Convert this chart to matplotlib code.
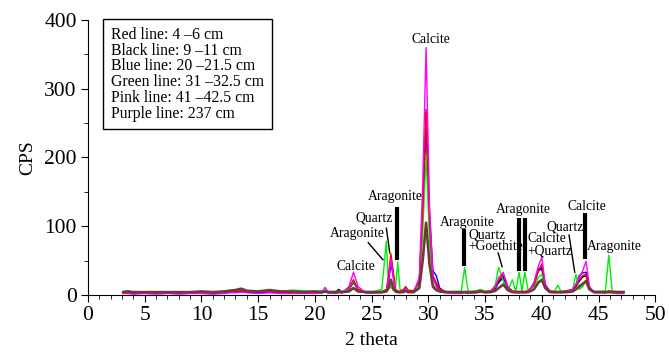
import matplotlib.pyplot as plt
from matplotlib.ticker import MultipleLocator

plt.rcParams['font.family'] = ['Liberation Serif', 'DejaVu Serif']

# 2 theta positions shared by all traces
two_theta = [3.1, 3.5, 4, 5, 6, 7, 8, 9, 10, 11,
             12, 12.5, 13, 13.5, 14, 15, 16, 17, 18, 19,
             20, 20.6, 20.9, 21.2, 21.8, 22.1, 22.4, 23.0, 23.4, 23.8,
             24.5, 25.2, 25.9, 26.3, 26.5, 26.7, 26.9, 27.1, 27.3, 27.5,
             27.8, 28.0, 28.2, 28.7, 29.2, 29.5, 29.8, 30.1, 30.4, 30.7,
             31.0, 31.5, 32.2, 32.9, 33.2, 33.5, 34.2, 34.6, 35.0, 35.5,
             35.9, 36.2, 36.6, 37.0, 37.4, 37.7, 38.0, 38.25, 38.5, 38.8,
             39.3, 39.7, 40.0, 40.3, 40.7, 41.1, 41.4, 41.7, 42.2, 42.7,
             43.0, 43.3, 43.6, 43.9, 44.2, 44.6, 45.2, 45.6, 45.9, 46.2,
             46.6, 47.2]

red = [3, 4, 3, 3, 3, 4, 3, 4, 4, 3,
       4, 5, 5, 6, 5, 5, 5, 4, 4, 4,
       4, 4, 6, 4, 4, 5, 4, 10, 22, 8,
       4, 4, 5, 8, 30, 60, 35, 8, 6, 5,
       8, 12, 7, 6, 20, 120, 270, 110, 28, 18,
       8, 5, 4, 4, 5, 4, 5, 6, 5, 6,
       12, 22, 30, 12, 6, 5, 5, 5, 5, 6,
       15, 35, 45, 15, 6, 5, 5, 5, 6, 8,
       14, 22, 28, 30, 10, 5, 5, 4, 6, 5,
       4, 4]

black = [4, 4, 3, 4, 3, 4, 3, 4, 4, 4,
         4, 5, 5, 6, 5, 4, 5, 4, 4, 4,
         4, 4, 5, 4, 4, 8, 4, 7, 20, 7,
         4, 4, 4, 6, 25, 55, 30, 6, 5, 4,
         6, 10, 5, 5, 18, 115, 265, 100, 25, 14,
         7, 4, 4, 4, 4, 4, 4, 5, 4, 5,
         10, 18, 25, 10, 5, 4, 4, 4, 4, 5,
         14, 35, 38, 12, 5, 4, 4, 4, 5, 8,
         12, 20, 26, 28, 9, 4, 4, 4, 5, 4,
         4, 4]

blue = [3, 3, 2, 3, 2, 3, 2, 3, 3, 2,
        3, 4, 4, 5, 4, 3, 4, 3, 3, 3,
        3, 3, 4, 3, 3, 4, 3, 8, 18, 8,
        3, 3, 4, 6, 20, 45, 30, 6, 5, 4,
        6, 10, 5, 5, 20, 115, 255, 120, 35, 28,
        10, 4, 3, 3, 4, 3, 4, 5, 4, 5,
        10, 20, 28, 12, 5, 4, 4, 4, 4, 5,
        15, 38, 40, 14, 5, 4, 4, 4, 5, 8,
        15, 28, 32, 33, 10, 4, 4, 3, 5, 4,
        3, 3]

green = [5, 6, 4, 4, 3, 4, 3, 4, 5, 4,
         5, 7, 6, 8, 5, 5, 6, 5, 7, 6,
         5, 6, 7, 5, 5, 6, 5, 8, 20, 7,
         5, 5, 8, 78, 8, 12, 6, 10, 48, 8,
         6, 12, 6, 5, 15, 90, 205, 80, 15, 8,
         6, 5, 5, 5, 40, 5, 6, 8, 5, 5,
         15, 40, 20, 6, 22, 5, 33, 5, 33, 6,
         12, 25, 30, 10, 5, 5, 14, 5, 5, 6,
         30, 8, 12, 22, 8, 5, 5, 6, 58, 6,
         5, 5]

pink = [2, 2, 1, 2, 1, 2, 1, 2, 2, 1,
        2, 3, 3, 4, 3, 2, 3, 2, 2, 2,
        2, 3, 11, 3, 2, 3, 3, 12, 33, 12,
        3, 3, 3, 5, 22, 52, 25, 5, 4, 3,
        6, 10, 4, 4, 25, 160, 360, 130, 25, 12,
        5, 3, 2, 2, 3, 2, 3, 4, 3, 4,
        12, 25, 33, 12, 4, 3, 3, 3, 3, 4,
        18, 42, 55, 16, 4, 3, 3, 3, 4, 8,
        15, 25, 35, 49, 12, 3, 3, 3, 4, 3,
        2, 2]

purple = [4, 5, 4, 4, 4, 4, 4, 4, 5, 4,
          5, 6, 7, 9, 6, 5, 7, 5, 5, 4,
          5, 4, 5, 4, 4, 5, 4, 5, 10, 5,
          4, 4, 4, 5, 10, 22, 10, 5, 4, 4,
          4, 6, 4, 4, 10, 50, 105, 45, 12, 7,
          5, 4, 4, 4, 4, 4, 4, 5, 4, 4,
          6, 10, 15, 7, 4, 4, 4, 4, 4, 4,
          8, 18, 22, 10, 4, 4, 4, 4, 4, 5,
          8, 12, 16, 20, 8, 4, 4, 4, 4, 4,
          4, 4]

legend_lines = ['Red line: 4 \u20136 cm', 'Black line: 9 \u201311 cm',
                'Blue line: 20 \u201321.5 cm', 'Green line: 31 \u201332.5 cm',
                'Pink line: 41 \u201342.5 cm', 'Purple line: 237 cm']

fig = plt.figure(figsize=(6.69, 3.57), dpi=100)
ax = fig.add_axes([0.1315, 0.174, 0.848, 0.77])

ax.plot(two_theta, black, c='black', lw=1.0, zorder=2)
ax.plot(two_theta, blue, c='blue', lw=1.0, zorder=2)
ax.plot(two_theta, green, c='#00ee00', lw=1.0, zorder=2)
ax.plot(two_theta, red, c='red', lw=1.0, zorder=3)
ax.plot(two_theta, pink, c='magenta', lw=1.0, zorder=3)
ax.plot(two_theta, purple, c='#6e3b3b', lw=1.9, zorder=4)

ax.set_xlim(0, 50)
ax.set_ylim(0, 400)
ax.xaxis.set_major_locator(MultipleLocator(5))
ax.xaxis.set_minor_locator(MultipleLocator(1))
ax.yaxis.set_major_locator(MultipleLocator(100))
ax.yaxis.set_minor_locator(MultipleLocator(50))
ax.tick_params(which='major', direction='out', length=5, labelsize=15.5, pad=3)
ax.tick_params(which='minor', direction='out', length=3)
for s in ['top', 'right']:
    ax.spines[s].set_visible(False)
ax.set_xlabel('2 theta', fontsize=14, labelpad=5)
ax.set_ylabel('CPS', fontsize=14, labelpad=6)

# mineral labels
fs = 9.8
ax.text(23.6, 42, 'Calcite', ha='center', va='center', fontsize=fs)
ax.text(23.7, 90, 'Aragonite', ha='center', va='center', fontsize=fs)
ax.plot([24.7, 26.0], [76, 51], c='k', lw=1)
ax.text(25.2, 112, 'Quartz', ha='center', va='center', fontsize=fs)
ax.plot([26.3, 26.6], [97, 61], c='k', lw=1)
ax.text(27.1, 143, 'Aragonite', ha='center', va='center', fontsize=fs)
ax.plot([27.25, 27.25], [128, 51], c='k', lw=3, solid_capstyle='butt')
ax.text(30.2, 371, 'Calcite', ha='center', va='center', fontsize=fs)
ax.text(33.4, 106, 'Aragonite', ha='center', va='center', fontsize=fs)
ax.plot([33.15, 33.15], [96, 42], c='k', lw=3, solid_capstyle='butt')
ax.text(33.5, 79, 'Quartz\n+Goethite', ha='left', va='center', fontsize=fs,
        linespacing=0.9)
ax.plot([36.15, 36.5], [61, 41], c='k', lw=1)
ax.text(38.4, 124, 'Aragonite', ha='center', va='center', fontsize=fs)
ax.plot([38.0, 38.0], [112, 35], c='k', lw=3, solid_capstyle='butt')
ax.plot([38.5, 38.5], [112, 35], c='k', lw=3, solid_capstyle='butt')
ax.text(38.7, 73, 'Calcite\n+Quartz', ha='left', va='center', fontsize=fs,
        linespacing=0.9)
ax.text(42.1, 99, 'Quartz', ha='center', va='center', fontsize=fs)
ax.plot([42.4, 42.9], [87, 33], c='k', lw=1)
ax.text(44.0, 129, 'Calcite', ha='center', va='center', fontsize=fs)
ax.plot([43.8, 43.8], [119, 52], c='k', lw=3, solid_capstyle='butt')
ax.text(46.4, 70, 'Aragonite', ha='center', va='center', fontsize=fs)

fig.text(0.166, 0.925, '\n'.join(legend_lines), ha='left', va='top',
         fontsize=11.3, linespacing=0.98,
         bbox=dict(boxstyle='square,pad=0.5', fc='white', ec='black', lw=1))

plt.savefig('out.png', dpi=100)
